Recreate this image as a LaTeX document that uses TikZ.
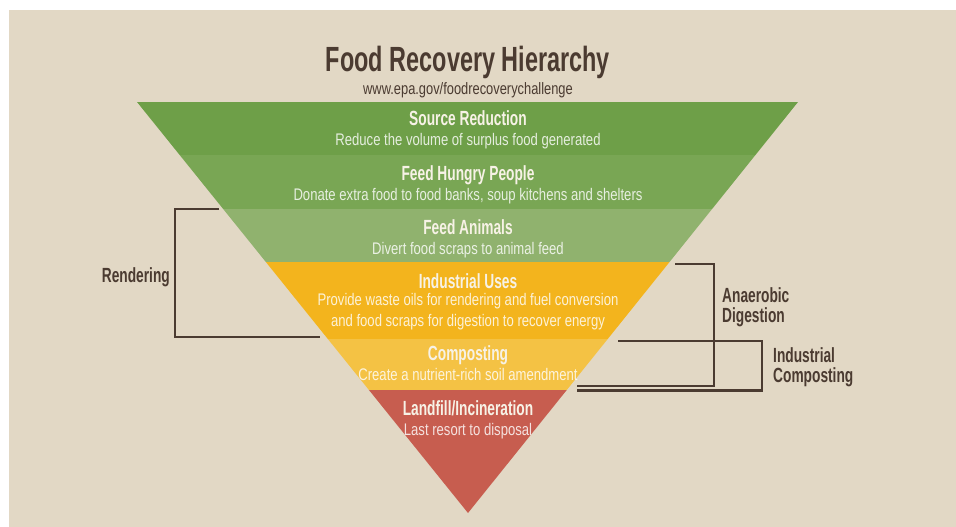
\documentclass[tikz,border=0pt]{standalone}
\usepackage{fontspec}
\setmainfont{Liberation Sans}
\newfontfamily\headfont{Liberation Sans}[FakeStretch=0.67]
\newfontfamily\subfont{Liberation Sans}[FakeStretch=0.78]
\definecolor{bg}{HTML}{E2D8C5}
\definecolor{brn}{HTML}{4B3B31}
\definecolor{gA}{HTML}{6E9F48}
\definecolor{gB}{HTML}{79A654}
\definecolor{gC}{HTML}{90B26E}
\definecolor{yA}{HTML}{F3B41D}
\definecolor{yB}{HTML}{F4C244}
\definecolor{rA}{HTML}{C75D4F}
\definecolor{headc}{HTML}{F7F2E6}
\tikzset{
  head/.style={font=\headfont\bfseries\fontsize{20.5}{21}\selectfont, text=headc, inner sep=0pt},
  subt/.style={font=\subfont\fontsize{16.8}{21}\selectfont, text=white, text opacity=0.82, inner sep=0pt, align=center},
  lab/.style={font=\headfont\bfseries\fontsize{20.5}{20}\selectfont, text=brn, inner sep=0pt, align=left},
  brk/.style={draw=brn, line width=2.7pt, line cap=butt, line join=miter}
}
\begin{document}
\begin{tikzpicture}[x=1pt,y=-1pt]
\useasboundingbox (0,0) rectangle (956,527);
\fill[white] (0,0) rectangle (956,527);
\fill[bg] (9,10) rectangle (956,527);

% title
\node[font=\headfont\bfseries\fontsize{35}{38}\selectfont, text=brn, inner sep=0pt, anchor=base] (title) at (468,72) {Food Recovery Hierarchy};
\node[font=\subfont\fontsize{16.5}{18}\selectfont, text=brn, inner sep=0pt, anchor=base] (url) at (468,94) {www.epa.gov/foodrecoverychallenge};

% pyramid
\begin{scope}
\clip (137,102) -- (798,102) -- (468,513) -- cycle;
\fill[gA] (100,100) rectangle (850,155);
\fill[gB] (100,155) rectangle (850,209);
\fill[gC] (100,209) rectangle (850,262);
\fill[yA] (100,262) rectangle (850,339);
\fill[yB] (100,339) rectangle (850,390);
\fill[rA] (100,390) rectangle (850,520);
\end{scope}

\node[head, anchor=base] (h1) at (468,125) {Source Reduction};
\node[subt, anchor=base] (s1) at (468,145) {Reduce the volume of surplus food generated};
\node[head, anchor=base] (h2) at (468,180) {Feed Hungry People};
\node[subt, anchor=base] (s2) at (468,200) {Donate extra food to food banks, soup kitchens and shelters};
\node[head, anchor=base] (h3) at (468,234) {Feed Animals};
\node[subt, anchor=base] (s3) at (468,254) {Divert food scraps to animal feed};
\node[head, anchor=base] (h4) at (468,288) {Industrial Uses};
\node[subt, anchor=center] (s4) at (468,312) {Provide waste oils for rendering and fuel conversion\\and food scraps for digestion to recover energy};
\node[head, anchor=base] (h5) at (468,360) {Composting};
\node[subt, anchor=base] (s5) at (468,380) {Create a nutrient-rich soil amendment};
\node[head, anchor=base] (h6) at (468,415) {Landfill/Incineration};
\node[subt, anchor=base] (s6) at (468,435) {Last resort to disposal};

% side labels
\node[lab, anchor=base east] (rend) at (170,282) {Rendering};
\node[lab, anchor=west] (anae) at (722,307) {Anaerobic\\Digestion};
\node[lab, anchor=west] (indc) at (773,367) {Industrial\\Composting};

% brackets
\coordinate (ra) at (219,209);
\coordinate (rb) at (175,209);
\coordinate (rc) at (175,337);
\coordinate (rd) at (320,337);
\draw[brk] (ra) -- (rb) -- (rc) -- (rd);

\coordinate (aa) at (675,264);
\coordinate (ab) at (714,264);
\coordinate (ac) at (714,386);
\coordinate (ad) at (577,386);
\draw[brk] (aa) -- (ab) -- (ac) -- (ad);

\coordinate (ia) at (618,341);
\coordinate (ib) at (762,341);
\coordinate (ic) at (762,390.5);
\coordinate (id) at (577,390.5);
\draw[brk] (ia) -- (ib) -- (ic) -- (id);
\end{tikzpicture}
\end{document}
